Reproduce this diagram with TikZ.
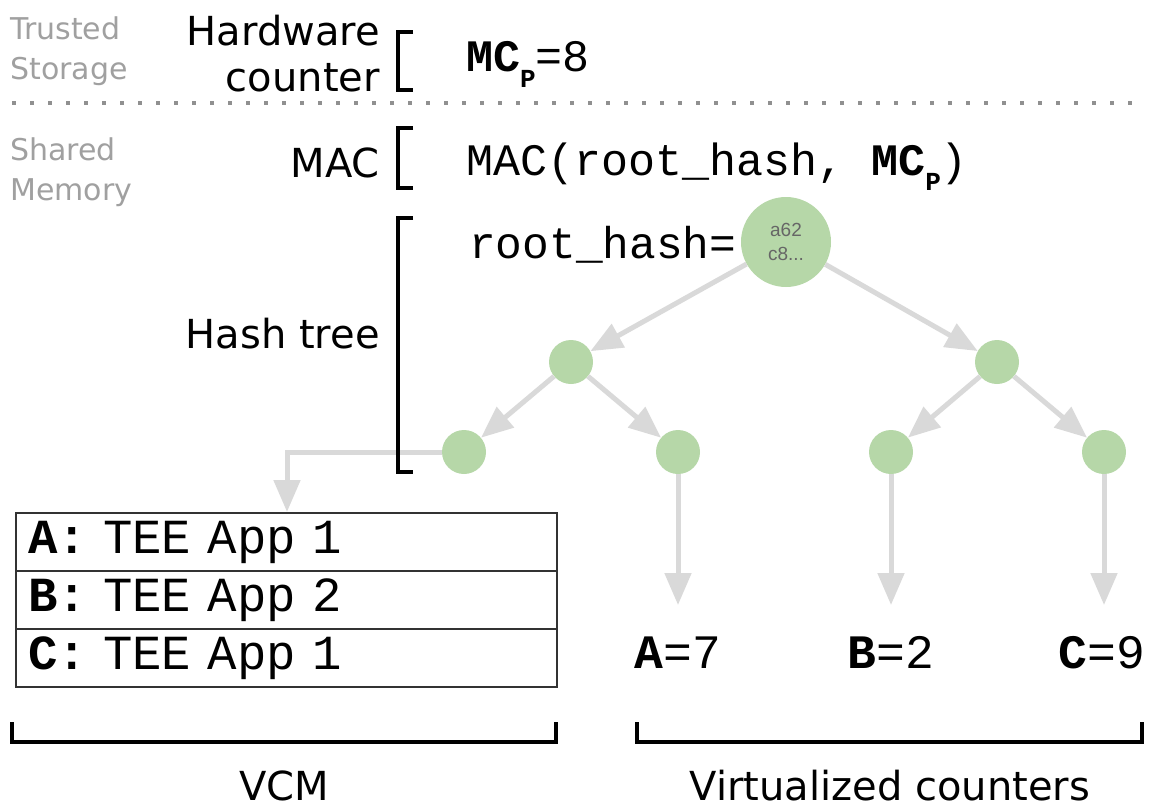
\documentclass[tikz,border=0pt]{standalone}
\usepackage{fontspec}
\setmainfont{DejaVu Sans}
\setmonofont{Liberation Mono}
\newfontfamily\arialf{Liberation Sans}
\usetikzlibrary{arrows.meta}
\definecolor{tgreen}{HTML}{B6D7A8}
\definecolor{agray}{HTML}{D9D9D9}
\definecolor{lgray}{HTML}{A0A0A0}
\definecolor{dgray}{HTML}{666666}
\begin{document}
\begin{tikzpicture}[x=1pt,y=-1pt,
  lbl/.style={font=\fontsize{40}{47}\selectfont, inner sep=0pt, align=right},
  side/.style={font=\fontsize{30}{40}\selectfont, text=lgray, inner sep=0pt, align=left},
  code/.style={font=\ttfamily\fontsize{45}{50}\selectfont, inner sep=0pt},
  cnt/.style={font=\ttfamily\fontsize{48}{50}\selectfont, inner sep=0pt},
  hnode/.style={circle, fill=tgreen, inner sep=0pt, minimum size=44pt},
  arr/.style={draw=agray, line width=5pt, -{Triangle[length=32pt,width=26pt]}},
  brk/.style={draw=black, line width=4pt},
  rowbox/.style={draw=black!80, line width=2pt, anchor=north west, minimum width=541pt, minimum height=58pt, text width=517pt, inner xsep=12pt, align=left, font=\ttfamily\fontsize{49}{52}\selectfont}
]
\useasboundingbox (0,0) rectangle (1151,808);

% side labels
\node[side, anchor=base west] (ts) at (10,80) {Trusted\\Storage};
\node[side, anchor=base west] (sm) at (10,200) {Shared\\Memory};

% left labels
\node[lbl, anchor=base east] (hw) at (380,92) {Hardware\\counter};
\node[lbl, anchor=base east] (mac) at (380,177) {MAC};
\node[lbl, anchor=base east] (ht) at (380,348) {Hash tree};

% separator
\draw[lgray!90!black, line width=4pt, dash pattern=on 4pt off 14pt] (12,103) -- (1145,103);

% code texts
\node[code, anchor=base west] (mcp) at (466,72) {\textbf{MC}\raisebox{-0.35em}{\fontsize{26}{26}\selectfont\bfseries P}=8};
\node[code, anchor=base west] (macv) at (466,175) {MAC(root\_hash, \textbf{MC}\raisebox{-0.35em}{\fontsize{26}{26}\selectfont\bfseries P})};
\node[code, anchor=base west, font=\ttfamily\fontsize{44.5}{50}\selectfont] (rh) at (469,258) {root\_hash=};

% tree nodes
\node[hnode, minimum size=90pt, align=center, font=\arialf\fontsize{19}{24}\selectfont, text=dgray] (root) at (786,242) {a62\\c8...};
\node[hnode] (l) at (571,362) {};
\node[hnode] (r) at (997,362) {};
\node[hnode] (ll) at (464,452) {};
\node[hnode] (lr) at (678,452) {};
\node[hnode] (rl) at (891,452) {};
\node[hnode] (rr) at (1104,452) {};

% table
\node[rowbox] (rA) at (15,512) {\textbf{A:} TEE App 1};
\node[rowbox] (rB) at (15,570) {\textbf{B:} TEE App 2};
\node[rowbox] (rC) at (15,628) {\textbf{C:} TEE App 1};

% counters
\coordinate (eA) at (678,605);
\coordinate (eB) at (891,605);
\coordinate (eC) at (1104,605);
\node[cnt, anchor=base] (cA) at (678,668) {\textbf{A}=7};
\node[cnt, anchor=base] (cB) at (891,668) {\textbf{B}=2};
\node[cnt, anchor=base] (cC) at (1102,668) {\textbf{C}=9};

% arrows
\draw[arr] (root) -- (l);
\draw[arr] (root) -- (r);
\draw[arr] (l) -- (ll);
\draw[arr] (l) -- (lr);
\draw[arr] (r) -- (rl);
\draw[arr] (r) -- (rr);
\draw[arr] (ll.west) -- (287,452) -- (287,512 |- rA.north);
\draw[arr] (lr) -- (eA);
\draw[arr] (rl) -- (eB);
\draw[arr] (rr) -- (eC);

% brackets
\draw[brk] (413,32) -- (398,32) -- (398,90) -- (413,90);
\draw[brk] (413,128) -- (398,128) -- (398,188) -- (413,188);
\draw[brk] (413,218) -- (398,218) -- (398,472) -- (413,472);
\draw[brk] (12,722) -- (12,742) -- (556,742) -- (556,722);
\draw[brk] (637,722) -- (637,742) -- (1142,742) -- (1142,722);

\node[lbl, anchor=base, text depth=0pt] (vcm) at (284,800) {VCM};
\node[lbl, anchor=base, text depth=0pt] (vc) at (890,800) {Virtualized counters};
\end{tikzpicture}
\end{document}
